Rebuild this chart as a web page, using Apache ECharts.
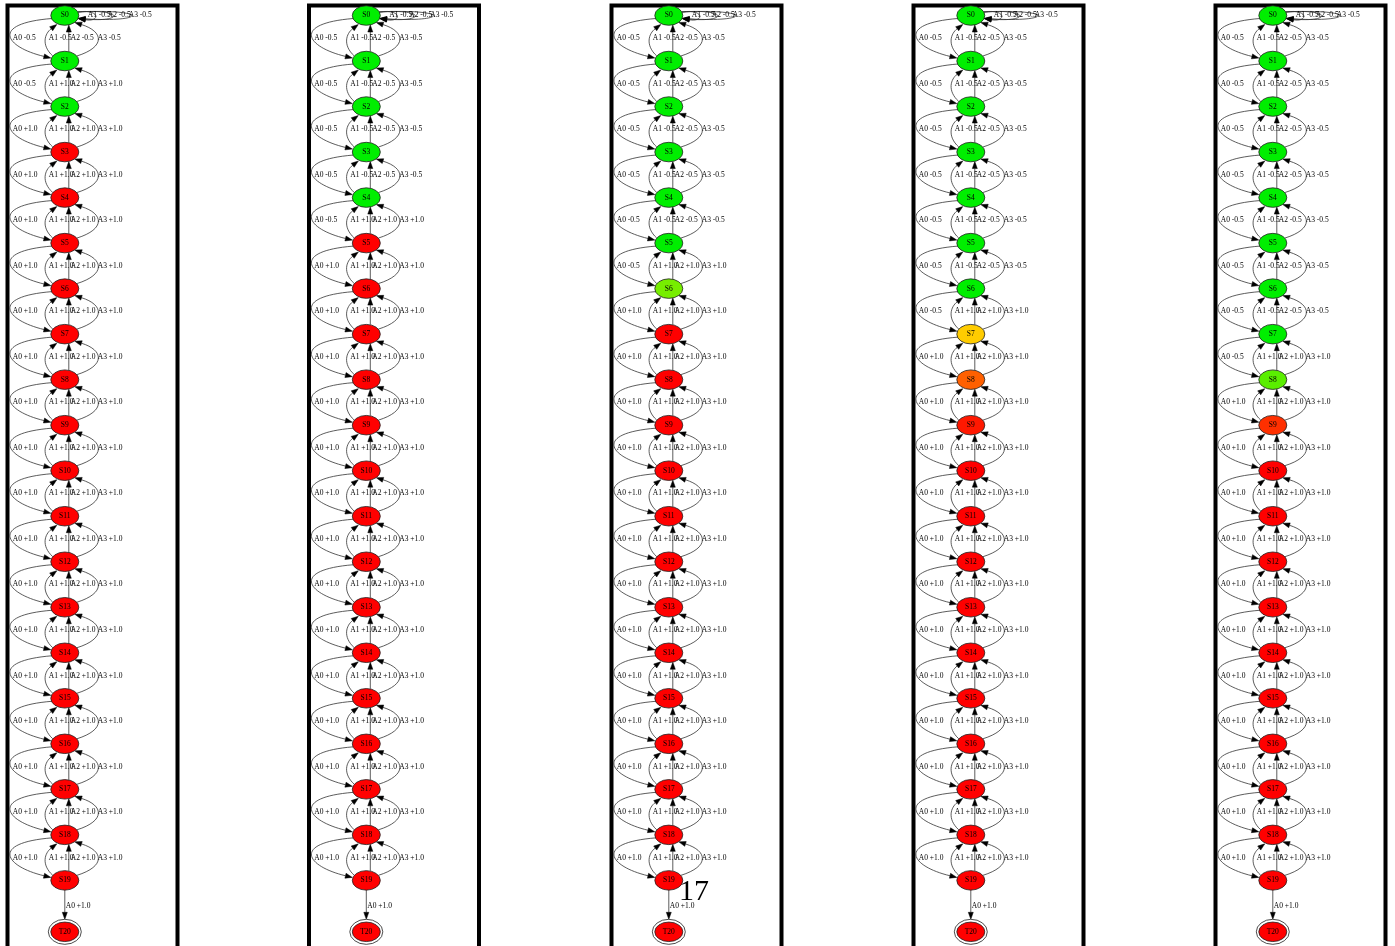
<!DOCTYPE html>
<html><head><meta charset="utf-8">
<script src="https://cdn.jsdelivr.net/npm/echarts@6/dist/echarts.min.js"></script>
<style>html,body{margin:0;padding:0;background:#fff}#c{width:1395px;height:946px}</style>
</head><body><div id="c"></div>
<script>
// ---- data ----
const states = ['S0','S1','S2','S3','S4','S5','S6','S7','S8','S9','S10','S11','S12','S13','S14','S15','S16','S17','S18','S19'];
const terminal = 'T20';
const G = '#00ee00', R = '#ff0000';
// node colours per panel (S0..S19, then T20)
const colors1 = [G,G,G,R,R,R,R,R,R,R,R,R,R,R,R,R,R,R,R,R,R];
const colors2 = [G,G,G,G,G,R,R,R,R,R,R,R,R,R,R,R,R,R,R,R,R];
const colors3 = [G,G,G,G,G,G,'#77ee00',R,R,R,R,R,R,R,R,R,R,R,R,R,R];
const colors4 = [G,G,G,G,G,G,G,'#ffcc00','#ff6000','#ff1800',R,R,R,R,R,R,R,R,R,R,R];
const colors5 = [G,G,G,G,G,G,G,G,'#5aee00','#ff3000',R,R,R,R,R,R,R,R,R,R,R];
// A0 rewards on edges S0->S1 ... S18->S19, S19->T20
const forward1 = [-0.5,-0.5,1,1,1,1,1,1,1,1,1,1,1,1,1,1,1,1,1,1];
const forward2 = [-0.5,-0.5,-0.5,-0.5,-0.5,1,1,1,1,1,1,1,1,1,1,1,1,1,1,1];
const forward3 = [-0.5,-0.5,-0.5,-0.5,-0.5,-0.5,1,1,1,1,1,1,1,1,1,1,1,1,1,1];
const forward4 = [-0.5,-0.5,-0.5,-0.5,-0.5,-0.5,-0.5,1,1,1,1,1,1,1,1,1,1,1,1,1];
const forward5 = [-0.5,-0.5,-0.5,-0.5,-0.5,-0.5,-0.5,-0.5,1,1,1,1,1,1,1,1,1,1,1,1];
// A1/A2/A3 rewards on edges S1->S0 ... S19->S18
const back1 = [-0.5,1,1,1,1,1,1,1,1,1,1,1,1,1,1,1,1,1,1];
const back2 = [-0.5,-0.5,-0.5,-0.5,1,1,1,1,1,1,1,1,1,1,1,1,1,1,1];
const back3 = [-0.5,-0.5,-0.5,-0.5,-0.5,1,1,1,1,1,1,1,1,1,1,1,1,1,1];
const back4 = [-0.5,-0.5,-0.5,-0.5,-0.5,-0.5,1,1,1,1,1,1,1,1,1,1,1,1,1];
const back5 = [-0.5,-0.5,-0.5,-0.5,-0.5,-0.5,-0.5,1,1,1,1,1,1,1,1,1,1,1,1];
// self-loop rewards at S0 for A1, A2, A3
const selfRewards = [-0.5,-0.5,-0.5];
const annotationText = '17';

const panels = [
  {colors: colors1, forward: forward1, back: back1},
  {colors: colors2, forward: forward2, back: back2},
  {colors: colors3, forward: forward3, back: back3},
  {colors: colors4, forward: forward4, back: back4},
  {colors: colors5, forward: forward5, back: back5}
];

// ---- layout ----
const TERM_RANK = 20.13;
const gridLefts = [7, 308.5, 611, 913, 1215];
const FONT = 'Liberation Serif';
const FS = 7.5;

function fmt(r){ return (r < 0 ? '' : '+') + r.toFixed(1); }

function renderEdge(params, api){
  const from = api.value(0), to = api.value(1), kind = api.value(2), act = api.value(3), rew = api.value(4);
  const A = api.coord([0, from]), B = api.coord([0, to]);
  const cx = A[0], yA = A[1], yB = B[1], ym = (yA + yB) / 2;
  let p0, c1 = null, c2 = null, tip, lx, ly = ym;
  if (kind === 0) {
    p0 = [cx-13, yA+3]; c1 = [cx-75, yA+8]; c2 = [cx-60, yB-14]; tip = [cx-14, yB-3]; lx = cx-52;
  } else if (kind === 1) {
    if (act === 1) { p0 = [cx-12, yA-5]; c1 = [cx-24, yA-16]; c2 = [cx-20, yB+18]; tip = [cx-8, yB+9]; lx = cx-16; }
    else if (act === 2) { p0 = [cx+4, yA-9.5]; tip = [cx+4, yB+9.5]; lx = cx+6; }
    else { p0 = [cx+12, yA-5]; c1 = [cx+41, yA-14]; c2 = [cx+39, yB+16]; tip = [cx+10, yB+7]; lx = cx+33; }
  } else if (kind === 2) {
    const w = [22.7, 46.7, 70.7][act-1];
    p0 = [cx+13, yA-3.5]; c1 = [cx+13+w, yA-7]; c2 = [cx+13+w, yA+7]; tip = [cx+13.5, yA+3];
    lx = cx + [23, 43, 64][act-1]; ly = yA;
  } else {
    p0 = [cx, yA+9.5]; tip = [cx, yB-12.5]; lx = cx+1;
  }
  const ref = c2 || p0;
  let dx = tip[0]-ref[0], dy = tip[1]-ref[1];
  const len = Math.hypot(dx, dy); dx /= len; dy /= len;
  const AL = 7, AW = 2.5;
  const base = [tip[0]-dx*AL, tip[1]-dy*AL];
  const children = [];
  if (c1) children.push({type:'bezierCurve', shape:{x1:p0[0],y1:p0[1],cpx1:c1[0],cpy1:c1[1],cpx2:c2[0],cpy2:c2[1],x2:base[0],y2:base[1]}, style:{stroke:'#333',lineWidth:0.8,fill:'none'}});
  else children.push({type:'line', shape:{x1:p0[0],y1:p0[1],x2:base[0],y2:base[1]}, style:{stroke:'#333',lineWidth:0.8}});
  children.push({type:'polygon', shape:{points:[tip,[base[0]-dy*AW, base[1]+dx*AW],[base[0]+dy*AW, base[1]-dx*AW]]}, style:{fill:'#000',stroke:'#000',lineWidth:0.5}});
  children.push({type:'text', x:lx, y:ly, z2:10, style:{text:'A'+act+' '+fmt(rew), fill:'#000', fontSize:FS, fontFamily:FONT, align:'left', verticalAlign:'middle'}});
  return {type:'group', children};
}

const grid = [], xAxis = [], yAxis = [], series = [], frames = [];
panels.forEach((p, k) => {
  grid.push({left: gridLefts[k], top: 5, width: 170, height: 940, show: false});
  xAxis.push({gridIndex: k, type: 'value', min: -57.8, max: 112.2, show: false});
  yAxis.push({gridIndex: k, type: 'value', inverse: true, min: -0.2307, max: 20.4196, show: false});
  frames.push({type:'rect', left: gridLefts[k] - 2, top: 3, silent: true, z: 0,
    shape:{x:0, y:0, width:170, height:1000}, style:{fill:'none', stroke:'#000', lineWidth:4}});
  // edges
  const edges = [];
  selfRewards.forEach((r, a) => edges.push([0, 0, 2, a+1, r]));
  for (let i = 0; i < states.length - 1; i++) {
    edges.push([i, i+1, 0, 0, p.forward[i]]);
    for (let a = 1; a <= 3; a++) edges.push([i+1, i, 1, a, p.back[i]]);
  }
  edges.push([states.length-1, TERM_RANK, 3, 0, p.forward[states.length-1]]);
  series.push({type:'custom', coordinateSystem:'cartesian2d', xAxisIndex:k, yAxisIndex:k, data: edges, renderItem: renderEdge, silent:true, z:2, animation:false, clip:false});
  // terminal outer ring
  series.push({type:'scatter', xAxisIndex:k, yAxisIndex:k, data:[[0, TERM_RANK]], symbol:'circle', symbolSize:[33,25],
    itemStyle:{color:'#fff', borderColor:'#222', borderWidth:0.8, opacity:1}, silent:true, z:3, animation:false});
  // nodes
  const nodes = states.map((s, i) => ({name: s, value: [0, i], itemStyle: {color: p.colors[i]}}));
  nodes.push({name: terminal, value: [0, TERM_RANK], itemStyle: {color: p.colors[states.length]}});
  series.push({type:'scatter', xAxisIndex:k, yAxisIndex:k, data: nodes, symbol:'circle', symbolSize:[28,19.5],
    itemStyle:{borderColor:'#222', borderWidth:0.8, opacity:1},
    label:{show:true, position:'inside', formatter:'{b}', color:'#000', fontSize:FS, fontFamily:FONT},
    silent:true, z:4, animation:false});
});

const chart = echarts.init(document.getElementById('c'), null, {renderer:'canvas'});
chart.setOption({
  backgroundColor: '#fff',
  animation: false,
  title: {text: annotationText, left: 679, top: 877, padding: 0, textStyle: {fontSize: 30, fontWeight: 'normal', fontFamily: FONT, color: '#000'}, z: 20},
  graphic: frames,
  grid, xAxis, yAxis, series
});
</script></body></html>
